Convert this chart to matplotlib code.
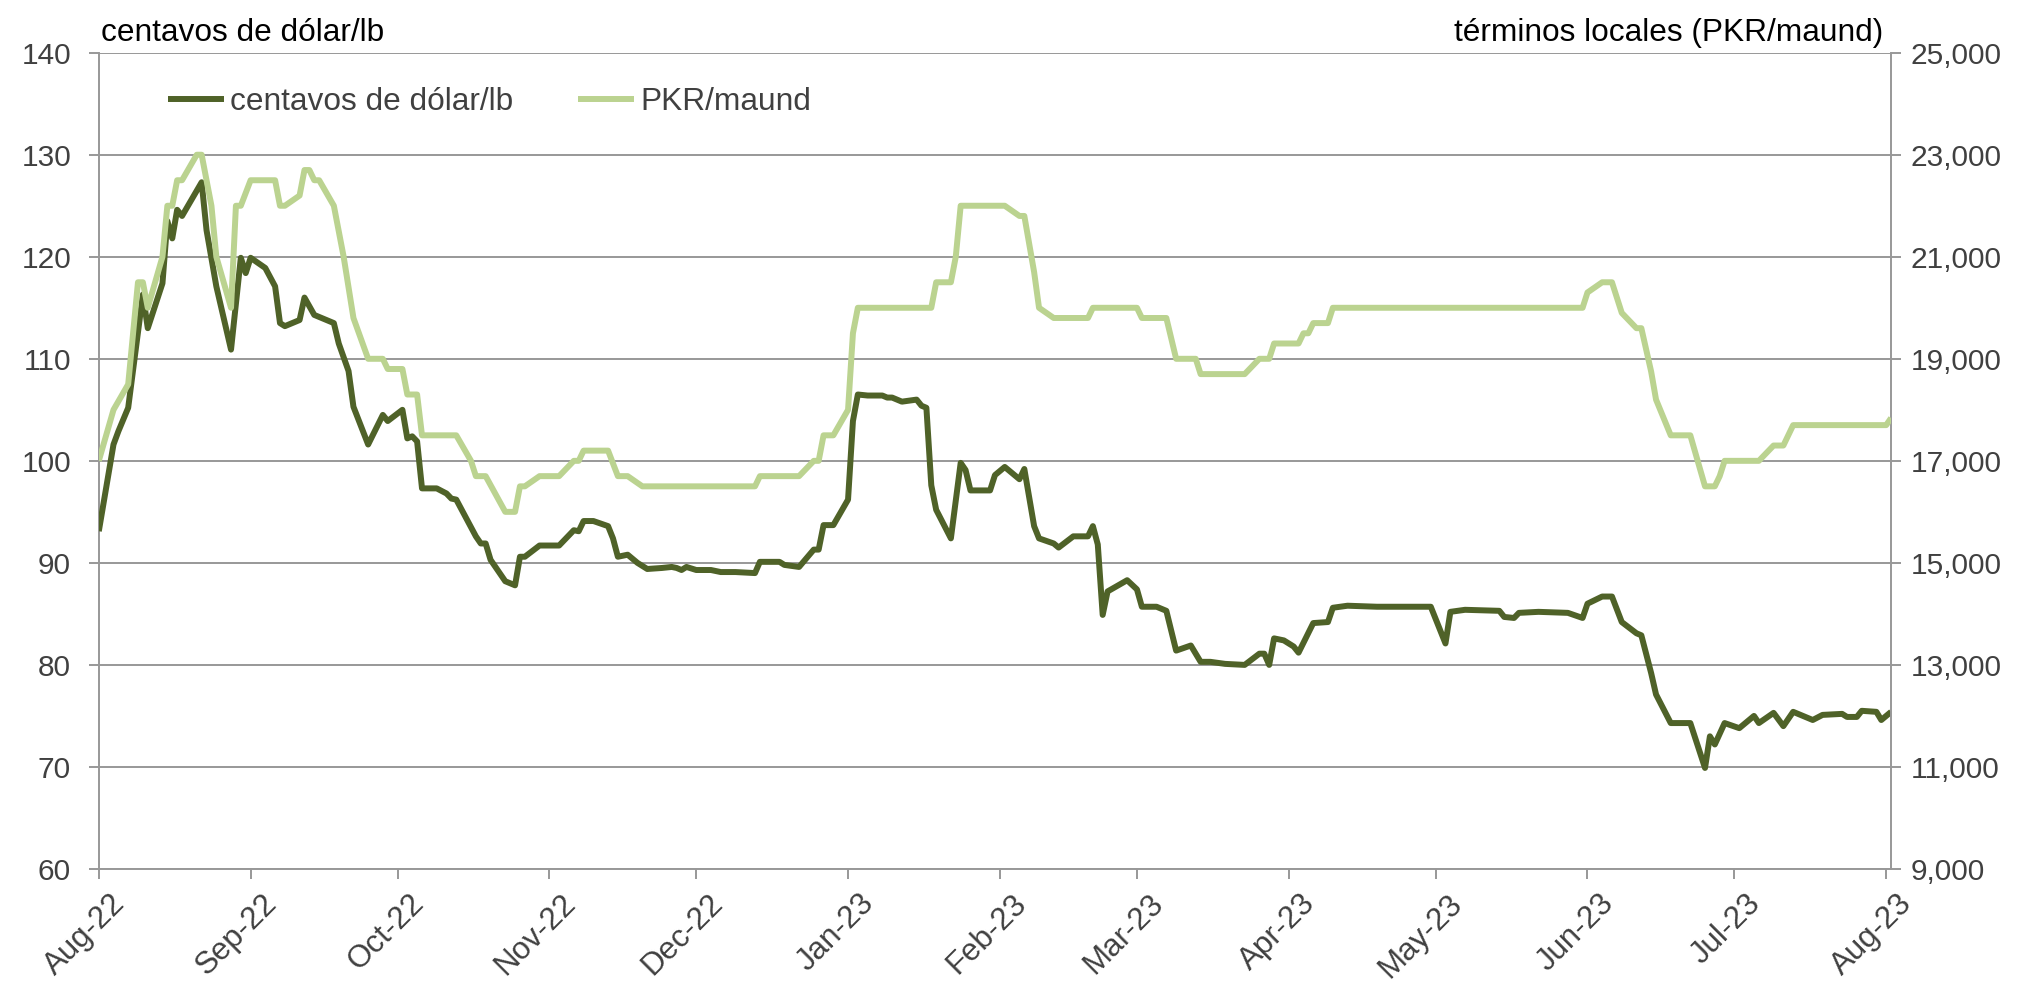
import matplotlib
matplotlib.use("Agg")
import matplotlib.pyplot as plt
import matplotlib.dates as mdates
import matplotlib.transforms as mtransforms
import pandas as pd

plt.rcParams['font.family'] = ['Liberation Sans', 'DejaVu Sans']

# ---- data: US cents/lb ----
usc_dates = [
    "2022-08-01", "2022-08-04", "2022-08-05", "2022-08-07", "2022-08-10", "2022-08-11",
    "2022-08-14", "2022-08-15", "2022-08-16", "2022-08-17", "2022-08-18", "2022-08-22",
    "2022-08-23", "2022-08-25", "2022-08-28", "2022-08-30", "2022-08-31", "2022-09-01",
    "2022-09-04", "2022-09-06", "2022-09-07", "2022-09-08", "2022-09-11", "2022-09-12",
    "2022-09-14", "2022-09-18", "2022-09-19", "2022-09-21", "2022-09-22", "2022-09-25",
    "2022-09-28", "2022-09-29", "2022-10-02", "2022-10-03", "2022-10-04", "2022-10-05",
    "2022-10-06", "2022-10-09", "2022-10-11", "2022-10-12", "2022-10-13", "2022-10-15",
    "2022-10-17", "2022-10-18", "2022-10-19", "2022-10-20", "2022-10-23", "2022-10-25",
    "2022-10-26", "2022-10-27", "2022-10-30", "2022-11-03", "2022-11-06", "2022-11-07",
    "2022-11-08", "2022-11-10", "2022-11-13", "2022-11-14", "2022-11-15", "2022-11-17",
    "2022-11-19", "2022-11-21", "2022-11-24", "2022-11-26", "2022-11-27", "2022-11-28",
    "2022-11-29", "2022-12-01", "2022-12-04", "2022-12-06", "2022-12-09", "2022-12-13",
    "2022-12-14", "2022-12-18", "2022-12-19", "2022-12-22", "2022-12-25", "2022-12-26",
    "2022-12-27", "2022-12-29", "2023-01-01", "2023-01-02", "2023-01-03", "2023-01-05",
    "2023-01-08", "2023-01-09", "2023-01-10", "2023-01-12", "2023-01-15", "2023-01-16",
    "2023-01-17", "2023-01-18", "2023-01-19", "2023-01-22", "2023-01-24", "2023-01-25",
    "2023-01-26", "2023-01-30", "2023-01-31", "2023-02-02", "2023-02-05", "2023-02-06",
    "2023-02-08", "2023-02-09", "2023-02-12", "2023-02-13", "2023-02-16", "2023-02-19",
    "2023-02-20", "2023-02-21", "2023-02-22", "2023-02-23", "2023-02-27", "2023-03-01",
    "2023-03-02", "2023-03-05", "2023-03-07", "2023-03-09", "2023-03-12", "2023-03-14",
    "2023-03-16", "2023-03-19", "2023-03-23", "2023-03-26", "2023-03-27", "2023-03-28",
    "2023-03-29", "2023-03-31", "2023-04-02", "2023-04-03", "2023-04-06", "2023-04-09",
    "2023-04-10", "2023-04-13", "2023-04-19", "2023-04-30", "2023-05-03", "2023-05-04",
    "2023-05-07", "2023-05-14", "2023-05-15", "2023-05-17", "2023-05-18", "2023-05-22",
    "2023-05-28", "2023-05-31", "2023-06-01", "2023-06-04", "2023-06-06", "2023-06-08",
    "2023-06-11", "2023-06-12", "2023-06-14", "2023-06-15", "2023-06-18", "2023-06-22",
    "2023-06-25", "2023-06-26", "2023-06-27", "2023-06-29", "2023-07-02", "2023-07-05",
    "2023-07-06", "2023-07-09", "2023-07-11", "2023-07-13", "2023-07-17", "2023-07-19",
    "2023-07-23", "2023-07-24", "2023-07-26", "2023-07-27", "2023-07-30", "2023-07-31",
    "2023-08-02",
]
usc_values = [
    93.1, 101.6, 102.9, 105.2, 116.3, 113.0,
    117.4, 123.5, 121.8, 124.6, 124.0, 127.3,
    122.6, 117.1, 110.9, 119.9, 118.4, 119.9,
    118.9, 117.1, 113.5, 113.2, 113.8, 116.0,
    114.3, 113.5, 111.5, 108.8, 105.3, 101.6,
    104.5, 103.9, 105.0, 102.2, 102.4, 101.9,
    97.3, 97.3, 96.8, 96.3, 96.2, 94.4,
    92.6, 91.9, 91.9, 90.3, 88.2, 87.8,
    90.6, 90.6, 91.7, 91.7, 93.2, 93.1,
    94.1, 94.1, 93.6, 92.4, 90.6, 90.8,
    90.0, 89.4, 89.5, 89.6, 89.5, 89.3,
    89.6, 89.3, 89.3, 89.1, 89.1, 89.0,
    90.1, 90.1, 89.8, 89.6, 91.3, 91.3,
    93.7, 93.7, 96.2, 103.9, 106.5, 106.4,
    106.4, 106.2, 106.2, 105.8, 106.0, 105.4,
    105.2, 97.6, 95.2, 92.4, 99.8, 99.1,
    97.1, 97.1, 98.6, 99.4, 98.2, 99.2,
    93.6, 92.4, 91.9, 91.5, 92.6, 92.6,
    93.6, 91.8, 84.9, 87.2, 88.3, 87.4,
    85.7, 85.7, 85.3, 81.4, 81.9, 80.3,
    80.3, 80.1, 80.0, 81.1, 81.1, 80.0,
    82.6, 82.4, 81.8, 81.2, 84.1, 84.2,
    85.6, 85.8, 85.7, 85.7, 82.1, 85.2,
    85.4, 85.3, 84.7, 84.6, 85.1, 85.2,
    85.1, 84.6, 86.0, 86.7, 86.7, 84.2,
    83.1, 82.9, 79.2, 77.1, 74.3, 74.3,
    69.9, 73.0, 72.2, 74.3, 73.8, 75.0,
    74.3, 75.3, 74.0, 75.4, 74.6, 75.1,
    75.2, 74.9, 74.9, 75.5, 75.4, 74.6,
    75.4,
]

# ---- data: PKR/maund ----
pkr_dates = [
    "2022-08-01", "2022-08-04", "2022-08-07", "2022-08-09", "2022-08-10", "2022-08-11",
    "2022-08-14", "2022-08-15", "2022-08-16", "2022-08-17", "2022-08-18", "2022-08-21",
    "2022-08-22", "2022-08-24", "2022-08-25", "2022-08-28", "2022-08-29", "2022-08-30",
    "2022-09-01", "2022-09-06", "2022-09-07", "2022-09-08", "2022-09-11", "2022-09-12",
    "2022-09-13", "2022-09-14", "2022-09-15", "2022-09-18", "2022-09-20", "2022-09-22",
    "2022-09-25", "2022-09-28", "2022-09-29", "2022-10-02", "2022-10-03", "2022-10-05",
    "2022-10-06", "2022-10-13", "2022-10-16", "2022-10-17", "2022-10-19", "2022-10-23",
    "2022-10-25", "2022-10-26", "2022-10-27", "2022-10-30", "2022-11-03", "2022-11-06",
    "2022-11-07", "2022-11-08", "2022-11-13", "2022-11-15", "2022-11-17", "2022-11-20",
    "2022-12-13", "2022-12-14", "2022-12-22", "2022-12-25", "2022-12-26", "2022-12-27",
    "2022-12-29", "2023-01-01", "2023-01-02", "2023-01-03", "2023-01-18", "2023-01-19",
    "2023-01-22", "2023-01-23", "2023-01-24", "2023-02-02", "2023-02-05", "2023-02-06",
    "2023-02-08", "2023-02-09", "2023-02-12", "2023-02-19", "2023-02-20", "2023-03-01",
    "2023-03-02", "2023-03-07", "2023-03-08", "2023-03-09", "2023-03-13", "2023-03-14",
    "2023-03-23", "2023-03-26", "2023-03-28", "2023-03-29", "2023-04-03", "2023-04-04",
    "2023-04-05", "2023-04-06", "2023-04-09", "2023-04-10", "2023-05-31", "2023-06-01",
    "2023-06-04", "2023-06-06", "2023-06-08", "2023-06-11", "2023-06-12", "2023-06-14",
    "2023-06-15", "2023-06-18", "2023-06-22", "2023-06-25", "2023-06-27", "2023-06-28",
    "2023-06-29", "2023-07-06", "2023-07-09", "2023-07-11", "2023-07-13", "2023-08-01",
    "2023-08-02",
]
pkr_values = [
    17000, 18000, 18500, 20500, 20500, 20000,
    21000, 22000, 22000, 22500, 22500, 23000,
    23000, 22000, 21000, 20000, 22000, 22000,
    22500, 22500, 22000, 22000, 22200, 22700,
    22700, 22500, 22500, 22000, 21000, 19800,
    19000, 19000, 18800, 18800, 18300, 18300,
    17500, 17500, 17000, 16700, 16700, 16000,
    16000, 16500, 16500, 16700, 16700, 17000,
    17000, 17200, 17200, 16700, 16700, 16500,
    16500, 16700, 16700, 17000, 17000, 17500,
    17500, 18000, 19500, 20000, 20000, 20500,
    20500, 21000, 22000, 22000, 21800, 21800,
    20700, 20000, 19800, 19800, 20000, 20000,
    19800, 19800, 19400, 19000, 19000, 18700,
    18700, 19000, 19000, 19300, 19300, 19500,
    19500, 19700, 19700, 20000, 20000, 20300,
    20500, 20500, 19900, 19600, 19600, 18750,
    18200, 17500, 17500, 16500, 16500, 16700,
    17000, 17000, 17300, 17300, 17700, 17700,
    17840,
]

left_ticks = [60, 70, 80, 90, 100, 110, 120, 130, 140]
right_ticks = [9000, 11000, 13000, 15000, 17000, 19000, 21000, 23000, 25000]
series_names = ["centavos de dólar/lb", "PKR/maund"]
left_title = "centavos de dólar/lb"
right_title = "términos locales (PKR/maund)"

DARK = "#4F6228"
LIGHT = "#BBD390"
GRID = "#989898"
TXT = "#404040"

fig = plt.figure(figsize=(20.33, 9.85), dpi=100)
ax = fig.add_axes([0.0486, 0.1178, 0.9302 - 0.0486, 0.9465 - 0.1178])
ax2 = ax.twinx()

ud = pd.to_datetime(usc_dates)
pdt = pd.to_datetime(pkr_dates)
l1, = ax.plot(ud, usc_values, color=DARK, lw=4.3, solid_joinstyle='round',
              solid_capstyle='butt', label=series_names[0], zorder=3)
l2, = ax2.plot(pdt, pkr_values, color=LIGHT, lw=4.3, solid_joinstyle='round',
               solid_capstyle='butt', label=series_names[1], zorder=3)

ax.set_ylim(60, 140)
ax2.set_ylim(9000, 25000)
ax.set_yticks(left_ticks)
ax2.set_yticks(right_ticks)
ax2.set_yticklabels([f"{v:,}" for v in right_ticks])
ax.set_xlim(pd.Timestamp("2022-08-01"), pd.Timestamp("2023-08-02"))

ax.xaxis.set_major_locator(mdates.MonthLocator())
ax.xaxis.set_major_formatter(mdates.DateFormatter("%b-%y"))

ax.grid(axis='y', color=GRID, lw=1.4)
ax.set_axisbelow(True)

for a in (ax, ax2):
    for s in a.spines.values():
        s.set_color(GRID)
        s.set_linewidth(1.4)
    a.spines['top'].set_visible(False)
ax2.spines['left'].set_visible(False)
ax2.spines['bottom'].set_visible(False)
ax.spines['right'].set_visible(False)

ax.tick_params(axis='y', length=7, width=1.4, color=GRID, labelsize=21.5,
               labelcolor=TXT, pad=13)
ax2.tick_params(axis='y', length=7, width=1.4, color=GRID, labelsize=21.5,
                labelcolor=TXT, pad=7)
ax.tick_params(axis='x', length=7, width=1.4, color=GRID, labelsize=22.5,
               labelcolor=TXT, pad=7)

offset = mtransforms.ScaledTranslation(11 / 100, 0, fig.dpi_scale_trans)
for lab in ax.get_xticklabels():
    lab.set_rotation(45)
    lab.set_ha('right')
    lab.set_va('top')
    lab.set_rotation_mode('anchor')
    lab.set_transform(lab.get_transform() + offset)

ax.text(0.001, 1.006, left_title, transform=ax.transAxes, ha='left', va='bottom',
        fontsize=22.8, color='black')
ax.text(0.9955, 1.006, right_title, transform=ax.transAxes, ha='right', va='bottom',
        fontsize=22.8, color='black')

leg = ax2.legend(handles=[l1, l2], loc='center left', bbox_to_anchor=(0.0387, 0.9396),
                 ncol=2, frameon=False, fontsize=22.8, handlelength=1.77,
                 handletextpad=0.19, columnspacing=2.05, borderpad=0, borderaxespad=0)
for t in leg.get_texts():
    t.set_color(TXT)

fig.savefig("out.png", dpi=100)
